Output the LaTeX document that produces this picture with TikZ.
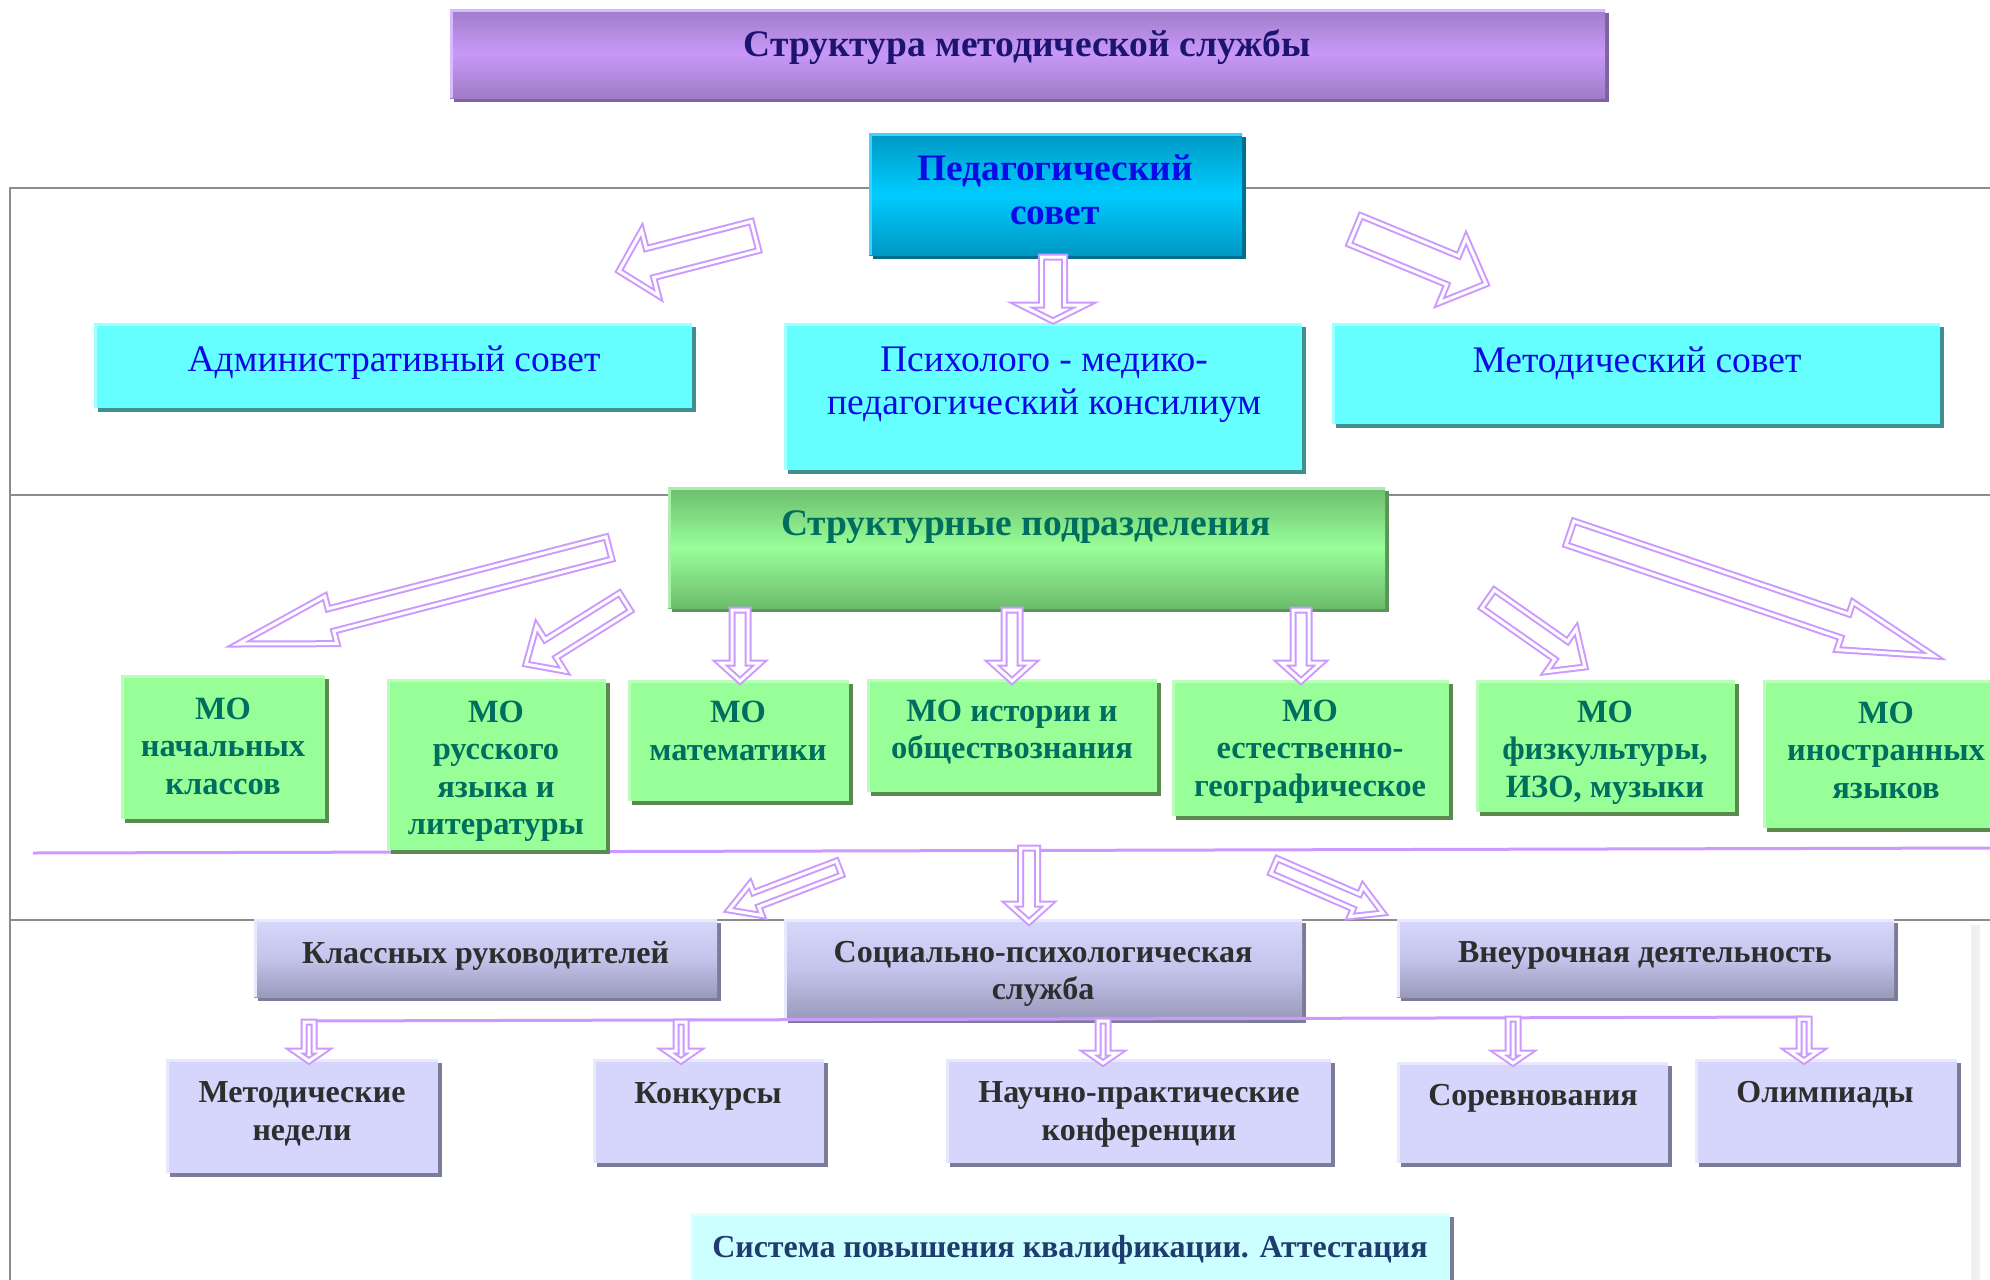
\documentclass[tikz,border=0pt]{standalone}
\usepackage{fontspec}
\setmainfont{Liberation Serif}
\usetikzlibrary{calc,shadows}
\definecolor{arrowc}{RGB}{204,153,255}
\definecolor{framegray}{RGB}{140,140,140}
\definecolor{titletop}{RGB}{160,124,200}
\definecolor{titlemid}{RGB}{200,152,248}
\definecolor{titlesh}{RGB}{126,98,162}
\definecolor{titlehl}{RGB}{216,184,255}
\definecolor{titletext}{RGB}{28,20,112}
\definecolor{pedtop}{RGB}{0,152,196}
\definecolor{pedmid}{RGB}{0,204,255}
\definecolor{pedsh}{RGB}{0,110,140}
\definecolor{pedhl}{RGB}{60,210,255}
\definecolor{bluetext}{RGB}{10,10,230}
\definecolor{cyanfill}{RGB}{102,255,255}
\definecolor{cyanhl}{RGB}{160,255,255}
\definecolor{cyansh}{RGB}{64,144,144}
\definecolor{strtop}{RGB}{108,188,108}
\definecolor{strmid}{RGB}{152,255,152}
\definecolor{strsh}{RGB}{90,150,90}
\definecolor{strhl}{RGB}{170,240,170}
\definecolor{mofill}{RGB}{152,255,152}
\definecolor{mohl}{RGB}{185,255,185}
\definecolor{mosh}{RGB}{90,138,80}
\definecolor{tealtext}{RGB}{0,110,95}
\definecolor{lavtop}{RGB}{216,216,252}
\definecolor{lavmid}{RGB}{196,196,236}
\definecolor{lavbot}{RGB}{154,154,188}
\definecolor{lavsh}{RGB}{124,124,152}
\definecolor{lavfill}{RGB}{214,214,252}
\definecolor{lavhl}{RGB}{232,232,255}
\definecolor{graytext}{RGB}{46,46,46}
\definecolor{palecyan}{RGB}{204,255,255}
\definecolor{palecyanhl}{RGB}{225,255,255}
\definecolor{bottext}{RGB}{30,60,110}
\newcommand\fs[2]{\fontsize{#1}{#2}\selectfont}
\newcommand\bx[6]{\node[bx,#2,minimum width={(#5-#3)*1pt},minimum height={(#6-#4)*1pt}] (#1) at ({(#3+#5)/2},{(#4+#6)/2}) {};}
\newcommand\barrow[5]{%
  \coordinate (#1-b) at ($(#2)!#5pt!(#1)$);
  \draw[blockarrow] ($(#1)!#3*0.5pt!90:(#2)$) -- ($(#1-b)!#3*0.5pt!90:(#2)$) -- ($(#1-b)!#4*0.5pt!90:(#2)$) -- (#2) -- ($(#1-b)!#4*0.5pt!-90:(#2)$) -- ($(#1-b)!#3*0.5pt!-90:(#2)$) -- ($(#1)!#3*0.5pt!-90:(#2)$) -- cycle;}
\tikzset{
  bx/.style={rectangle,inner sep=0pt,outer sep=0pt,draw=none},
  shd/.style={drop shadow={shadow xshift=4pt,shadow yshift=-4pt,fill=#1,opacity=1}},
  hl/.style={path picture={
     \fill[#1] (path picture bounding box.north west) rectangle ([yshift=-3pt]path picture bounding box.north east);
     \fill[#1] (path picture bounding box.north west) rectangle ([xshift=3pt]path picture bounding box.south west);}},
  blockarrow/.style={draw=arrowc,line width=2pt,double=white,double distance=3pt,fill=white,line join=miter},
  framel/.style={draw=framegray,line width=2.5pt},
  pline/.style={draw=arrowc,line width=3pt},
  txt/.style={align=center,inner sep=0pt},
}
\begin{document}
\begin{tikzpicture}[x=1pt,y=-1pt]
\useasboundingbox (0,0) rectangle (1990,1280);
\clip (0,0) rectangle (1990,1280);
\fill[white] (0,0) rectangle (1990,1280);
% frame lines
\coordinate (f1l) at (10,188); \coordinate (f1r) at (1995,188);
\coordinate (f2l) at (10,495); \coordinate (f2r) at (1995,495);
\coordinate (f3l) at (10,920); \coordinate (f3r) at (1995,920);
\coordinate (fvb) at (10,1285);
\draw[framel] (f1r) -- (f1l) -- (fvb);
\draw[framel] (f2l) -- (f2r);
\draw[framel] (f3l) -- (f3r);
\coordinate (rlt) at (1975,925); \coordinate (rlb) at (1975,1285);
\draw[gray!12,line width=9pt] (rlt) -- (rlb);
% purple lines
\coordinate (p1l) at (33,853); \coordinate (p1r) at (1995,848);
\draw[pline] (p1l) -- (p1r);
\coordinate (p2l) at (306,1021); \coordinate (p2r) at (1806,1017);
% title
\bx{title}{top color=titletop,bottom color=titletop,middle color=titlemid,shd=titlesh,hl=titlehl}{450}{9}{1605}{98}
\node[txt,font=\fs{37.5}{42}\bfseries,text=titletext] (titlet) at (1027,47) {Структура методической службы};
% pedagogical council
\bx{ped}{top color=pedtop,bottom color=pedtop,middle color=pedmid,shd=pedsh,hl=pedhl}{869}{133}{1242}{255}
\node[txt,font=\fs{37.4}{44}\bfseries,text=bluetext] (pedt) at (1055,190) {Педагогический\\совет};
% second row
\bx{adm}{fill=cyanfill,shd=cyansh,hl=cyanhl}{94}{323}{692}{408}
\node[txt,font=\fs{37.5}{43.5},text=bluetext] (admt) at (394,363) {Административный совет};
\bx{psy}{fill=cyanfill,shd=cyansh,hl=cyanhl}{784}{323}{1302}{470}
\node[txt,font=\fs{37.5}{43.5},text=bluetext] (psyt) at (1044,385) {Психолого - медико-\\педагогический консилиум};
\bx{met}{fill=cyanfill,shd=cyansh,hl=cyanhl}{1332}{323}{1940}{424}
\node[txt,font=\fs{37.5}{43.5},text=bluetext] (mett) at (1637,363) {Методический совет};
% structural units
\bx{str}{top color=strtop,bottom color=strtop,middle color=strmid,shd=strsh,hl=strhl}{668}{487}{1385}{608}
\node[txt,font=\fs{37.5}{42}\bfseries,text=tealtext] (strt) at (1026,527) {Структурные подразделения};
% MO boxes
\bx{mo1}{fill=mofill,shd=mosh,hl=mohl}{121}{675}{325}{819}
\node[txt,font=\fs{32.5}{37.5}\bfseries,text=tealtext] (mo1t) at (223,746) {МО\\начальных\\классов};
\bx{mo2}{fill=mofill,shd=mosh,hl=mohl}{387}{679}{606}{850}
\node[txt,font=\fs{32.5}{37.5}\bfseries,text=tealtext] (mo2t) at (496,771) {МО\\русского\\языка и\\литературы};
\bx{mo3}{fill=mofill,shd=mosh,hl=mohl}{628}{680}{849}{801}
\node[txt,font=\fs{32.5}{37.5}\bfseries,text=tealtext] (mo3t) at (738,731) {МО\\математики};
\bx{mo4}{fill=mofill,shd=mosh,hl=mohl}{867}{679}{1157}{792}
\node[txt,font=\fs{32.5}{37.5}\bfseries,text=tealtext] (mo4t) at (1012,732) {МО истории и\\обществознания};
\bx{mo5}{fill=mofill,shd=mosh,hl=mohl}{1172}{680}{1449}{816}
\node[txt,font=\fs{32.5}{37.5}\bfseries,text=tealtext] (mo5t) at (1310,751.5) {МО\\естественно-\\географическое};
\bx{mo6}{fill=mofill,shd=mosh,hl=mohl}{1476}{680}{1735}{812}
\node[txt,font=\fs{32.5}{37.5}\bfseries,text=tealtext] (mo6t) at (1605,752.5) {МО\\физкультуры,\\ИЗО, музыки};
\bx{mo7}{fill=mofill,shd=mosh,hl=mohl}{1763}{680}{2009}{828}
\node[txt,font=\fs{32.5}{37.5}\bfseries,text=tealtext] (mo7t) at (1886,750) {МО\\иностранных\\языков};
% third row
\bx{kl}{top color=lavtop,bottom color=lavbot,middle color=lavmid,shd=lavsh,hl=lavhl}{254}{919}{717}{997}
\node[txt,font=\fs{32}{36.5}\bfseries,text=graytext] (klt) at (485.5,955.5) {Классных руководителей};
\bx{soc}{top color=lavtop,bottom color=lavbot,middle color=lavmid,shd=lavsh,hl=lavhl}{784}{919}{1302}{1019}
\node[txt,font=\fs{32}{36.5}\bfseries,text=graytext] (soct) at (1043,974) {Социально-психологическая\\служба};
\bx{vne}{top color=lavtop,bottom color=lavbot,middle color=lavmid,shd=lavsh,hl=lavhl}{1397}{919}{1894}{997}
\node[txt,font=\fs{32}{36.5}\bfseries,text=graytext] (vnet) at (1645,955.5) {Внеурочная деятельность};
\draw[pline] (p2l) -- (p2r);
% fourth row
\bx{mn}{fill=lavfill,shd=lavsh,hl=lavhl}{166}{1059}{438}{1173}
\node[txt,font=\fs{32}{38}\bfseries,text=graytext] (mnt) at (302,1114) {Методические\\недели};
\bx{kon}{fill=lavfill,shd=lavsh,hl=lavhl}{593}{1059}{824}{1163}
\node[txt,font=\fs{32}{38}\bfseries,text=graytext] (kont) at (708,1096) {Конкурсы};
\bx{nk}{fill=lavfill,shd=lavsh,hl=lavhl}{946}{1059}{1331}{1163}
\node[txt,font=\fs{32}{38}\bfseries,text=graytext] (nkt) at (1139,1114) {Научно-практические\\конференции};
\bx{sor}{fill=lavfill,shd=lavsh,hl=lavhl}{1397}{1062}{1668}{1163}
\node[txt,font=\fs{32}{38}\bfseries,text=graytext] (sort) at (1533,1098) {Соревнования};
\bx{ol}{fill=lavfill,shd=lavsh,hl=lavhl}{1695}{1059}{1957}{1163}
\node[txt,font=\fs{32}{38}\bfseries,text=graytext] (olt) at (1825,1095) {Олимпиады};
% bottom
\bx{att}{fill=palecyan,shd=lavsh,hl=palecyanhl}{690}{1213}{1450}{1295}
\node[txt,font=\fs{32}{36}\bfseries,text=bottext] (attt) at (1070,1249.5) {Система повышения квалификации. Аттестация};
% arrows
\coordinate (a1) at (755,236); \coordinate (a1e) at (619,271); \barrow{a1}{a1e}{30}{67}{32}
\coordinate (a2) at (1053,257); \coordinate (a2e) at (1053,321); \barrow{a2}{a2e}{23}{64}{16}
\coordinate (a3) at (1355,230); \coordinate (a3e) at (1486,284); \barrow{a3}{a3e}{31}{70}{36}
\coordinate (a4) at (609,548); \coordinate (a4e) at (238,644); \barrow{a4}{a4e}{23}{49}{96}
\coordinate (a5) at (625,602); \coordinate (a5e) at (526,664); \barrow{a5}{a5e}{21}{53}{29}
\coordinate (a6) at (740,610); \coordinate (a6e) at (740,681); \barrow{a6}{a6e}{16}{40}{18}
\coordinate (a7) at (1012,610); \coordinate (a7e) at (1012,681); \barrow{a7}{a7e}{16}{40}{18}
\coordinate (a8) at (1301,610); \coordinate (a8e) at (1301,681); \barrow{a8}{a8e}{16}{40}{18}
\coordinate (a9) at (1488,599); \coordinate (a9e) at (1585,667); \barrow{a9}{a9e}{22}{52}{29}
\coordinate (a10) at (1570,533); \coordinate (a10e) at (1934,656); \barrow{a10}{a10e}{25}{50}{94}
\coordinate (a11) at (839,868); \coordinate (a11e) at (729,910); \barrow{a11}{a11e}{15}{34}{29}
\coordinate (a12) at (1029,848); \coordinate (a12e) at (1029,922); \barrow{a12}{a12e}{17}{40}{18}
\coordinate (a13) at (1274,866); \coordinate (a13e) at (1383,913); \barrow{a13}{a13e}{16}{33}{29}
\coordinate (b1) at (309,1022); \coordinate (b1e) at (309,1061); \barrow{b1}{b1e}{10}{29}{10}
\coordinate (b2) at (681,1022); \coordinate (b2e) at (681,1061); \barrow{b2}{b2e}{10}{29}{10}
\coordinate (b3) at (1103,1021); \coordinate (b3e) at (1103,1063); \barrow{b3}{b3e}{10}{29}{10}
\coordinate (b4) at (1513,1019); \coordinate (b4e) at (1513,1063); \barrow{b4}{b4e}{10}{29}{10}
\coordinate (b5) at (1804,1019); \coordinate (b5e) at (1804,1061); \barrow{b5}{b5e}{10}{29}{10}
\end{tikzpicture}
\end{document}
